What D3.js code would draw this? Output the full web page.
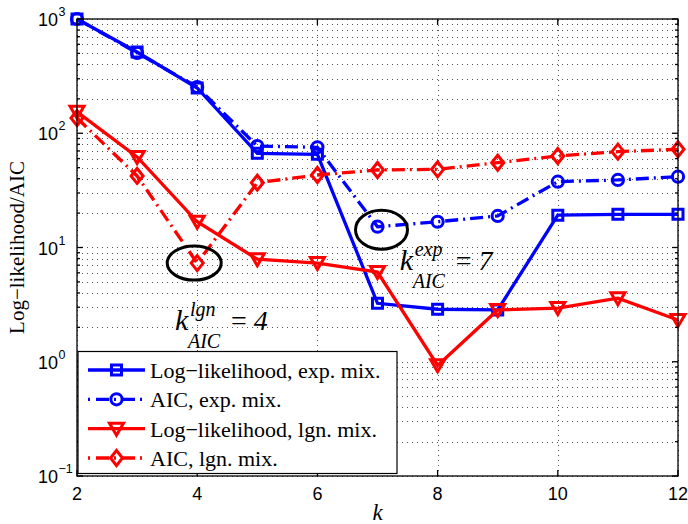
<!DOCTYPE html>
<html>
<head>
<meta charset="utf-8">
<script src="https://cdn.jsdelivr.net/npm/d3@7"></script>
<style>
  body { margin: 0; background: #fff; }
  svg { display: block; }
</style>
</head>
<body>
<div id="chart"></div>
<script>
// data
const kValues = [2, 3, 4, 5, 6, 7, 8, 9, 10, 11, 12];
const llExp  = [1000, 514, 249, 66.7, 65.4, 3.25, 2.88, 2.84, 19.2, 19.5, 19.5];
const aicExp = [1000, 505, 254, 77.3, 75.3, 15.2, 16.8, 18.9, 37.7, 39.0, 41.7];
const llLgn  = [154, 62, 16.8, 7.9, 7.3, 6.1, 0.93, 2.84, 2.95, 3.6, 2.32];
const aicLgn = [136, 42.3, 7.3, 36.9, 43.1, 47.7, 48.3, 55.2, 63.2, 69.0, 72.4];
const seriesNames = ["Log\u2212likelihood, exp. mix.", "AIC, exp. mix.", "Log\u2212likelihood, lgn. mix.", "AIC, lgn. mix."];
const xTicks = [2, 4, 6, 8, 10, 12];
const yDecades = [-1, 0, 1, 2, 3];

const width = 688, height = 524;
const margin = {left: 77, right: 10, top: 19, bottom: 48};

const svg = d3.select("#chart").append("svg")
    .attr("width", width)
    .attr("height", height);

const x = d3.scaleLinear().domain([2, 12]).range([margin.left, width - margin.right]);
const y = d3.scaleLog().domain([0.1, 1000]).range([height - margin.bottom, margin.top]);

const x0 = x.range()[0], x1 = x.range()[1];
const y0 = y.range()[0], y1 = y.range()[1];

// grid
const minorVals = [];
yDecades.slice(0, -1).forEach(e => {
    for (let m = 1; m < 10; m++) minorVals.push(m * Math.pow(10, e));
});
minorVals.push(1000);

const grid = svg.append("g").attr("stroke", "#555").attr("stroke-width", 1).attr("stroke-dasharray", "1,4");
grid.selectAll("line.h").data(minorVals).join("line")
    .attr("class", "h")
    .attr("x1", x0).attr("x2", x1)
    .attr("y1", d => Math.round(y(d)) + 0.5).attr("y2", d => Math.round(y(d)) + 0.5);
grid.selectAll("line.v").data(xTicks).join("line")
    .attr("class", "v")
    .attr("y1", y0).attr("y2", y1)
    .attr("x1", d => Math.round(x(d)) + 0.5).attr("x2", d => Math.round(x(d)) + 0.5);

// series
const series = [
    {values: llExp,  color: "#0000ff", dash: null,       marker: "square"},
    {values: aicExp, color: "#0000ff", dash: "13,5,2,5", marker: "circle"},
    {values: llLgn,  color: "#ff0000", dash: null,       marker: "triangle"},
    {values: aicLgn, color: "#ff0000", dash: "13,5,2,5", marker: "diamond"}
];

function markerPath(type) {
    if (type === "square") return "M-5,-5H5V5H-5Z";
    if (type === "circle") return d3.symbol(d3.symbolCircle, Math.PI * 5.6 * 5.6)();
    if (type === "triangle") return "M-7,-5.5L7,-5.5L0,6.5Z";
    return "M0,-7.5L6,0L0,7.5L-6,0Z";
}

const line = d3.line().x((d, i) => x(kValues[i])).y(d => y(d));

const plot = svg.append("g");
series.forEach(s => {
    const g = plot.append("g");
    g.append("path")
        .datum(s.values)
        .attr("d", line)
        .attr("fill", "none")
        .attr("stroke", s.color)
        .attr("stroke-width", 3.3)
        .attr("stroke-dasharray", s.dash);
    g.selectAll("path.m").data(s.values).join("path")
        .attr("class", "m")
        .attr("d", markerPath(s.marker))
        .attr("transform", (d, i) => `translate(${x(kValues[i])},${y(d)})`)
        .attr("fill", "none")
        .attr("stroke", s.color)
        .attr("stroke-width", 3);
});

// axes box + ticks
const axes = svg.append("g").attr("stroke", "#000").attr("stroke-width", 1.3);
axes.append("rect")
    .attr("x", x0).attr("y", y1)
    .attr("width", x1 - x0).attr("height", y0 - y1)
    .attr("fill", "none");
xTicks.forEach(t => {
    axes.append("line").attr("x1", x(t)).attr("x2", x(t)).attr("y1", y0).attr("y2", y0 - 6);
    axes.append("line").attr("x1", x(t)).attr("x2", x(t)).attr("y1", y1).attr("y2", y1 + 6);
});
minorVals.forEach(v => {
    const major = Math.abs(Math.log10(v) - Math.round(Math.log10(v))) < 1e-9;
    const len = major ? 6 : 3;
    axes.append("line").attr("x1", x0).attr("x2", x0 + len).attr("y1", y(v)).attr("y2", y(v));
    axes.append("line").attr("x1", x1).attr("x2", x1 - len).attr("y1", y(v)).attr("y2", y(v));
});

// tick labels
const sans = "'Liberation Sans', Arial, sans-serif";
svg.append("g").selectAll("text").data(xTicks).join("text")
    .attr("x", d => x(d))
    .attr("y", 500)
    .attr("text-anchor", "middle")
    .attr("font-family", sans)
    .attr("font-size", 18)
    .text(d => d);

const yl = svg.append("g").attr("font-family", sans);
yDecades.forEach(e => {
    yl.append("text")
        .attr("x", 58)
        .attr("y", y(Math.pow(10, e)) + 7)
        .attr("font-size", 18)
        .attr("text-anchor", "end")
        .text("10");
    yl.append("text")
        .attr("x", 58.5)
        .attr("y", y(Math.pow(10, e)) - 3)
        .attr("font-size", 12.5)
        .text(e < 0 ? "\u2212" + Math.abs(e) : e);
});

// axis labels
const serif = "'Liberation Serif', 'Times New Roman', serif";
svg.append("text")
    .attr("x", (x0 + x1) / 2)
    .attr("y", 520)
    .attr("text-anchor", "middle")
    .attr("font-family", serif)
    .attr("font-style", "italic")
    .attr("font-size", 23)
    .text("k");

svg.append("text")
    .attr("transform", `translate(24,${(y0 + y1) / 2}) rotate(-90)`)
    .attr("text-anchor", "middle")
    .attr("font-family", serif)
    .attr("font-size", 21)
    .text("Log\u2212likelihood/AIC");

// annotations: ellipses around the chosen k
const circles = svg.append("g").attr("fill", "none").attr("stroke", "#000").attr("stroke-width", 3);
circles.append("ellipse")
    .attr("cx", x(4) - 3).attr("cy", y(aicLgn[2]))
    .attr("rx", 27).attr("ry", 17);
circles.append("ellipse")
    .attr("cx", x(7) + 4).attr("cy", y(aicExp[5]) + 3)
    .attr("rx", 26).attr("ry", 19.5);

function kLabel(px, py, sup, num) {
    const g = svg.append("g")
        .attr("font-family", serif)
        .attr("font-style", "italic")
        .attr("transform", `translate(${px},${py})`);
    g.append("text").attr("x", 0).attr("y", 0).attr("font-size", 30).text("k");
    g.append("text").attr("x", 15).attr("y", -14).attr("font-size", 20).text(sup);
    g.append("text").attr("x", 13).attr("y", 18).attr("font-size", 20).text("AIC");
    const eq = g.append("text").attr("x", 56).attr("y", 0).attr("font-size", 28);
    eq.append("tspan").attr("font-style", "normal").text("=");
    eq.append("tspan").attr("dx", 7).text(num);
}
kLabel(x(3.63), y(1.9), "lgn", "4");
kLabel(x(7.37), y(6.35), "exp", "7");

// legend
const legend = svg.append("g");
legend.append("rect")
    .attr("x", x0 + 1).attr("y", 351.5)
    .attr("width", 319).attr("height", 122)
    .attr("fill", "#fff")
    .attr("stroke", "#000")
    .attr("stroke-width", 1.2);
const rowY = d3.scalePoint().domain(d3.range(series.length)).range([370, 458]);
series.forEach((s, i) => {
    const ry = rowY(i);
    legend.append("line")
        .attr("x1", 88).attr("x2", 145)
        .attr("y1", ry).attr("y2", ry)
        .attr("stroke", s.color)
        .attr("stroke-width", 3.3)
        .attr("stroke-dasharray", s.dash ? "2,6,13,5" : null);
    legend.append("path")
        .attr("d", markerPath(s.marker))
        .attr("transform", `translate(116.5,${ry})`)
        .attr("fill", "none")
        .attr("stroke", s.color)
        .attr("stroke-width", 3);
    legend.append("text")
        .attr("x", 150)
        .attr("y", ry + 8)
        .attr("font-family", serif)
        .attr("font-size", 22)
        .text(seriesNames[i]);
});
</script>
</body>
</html>
